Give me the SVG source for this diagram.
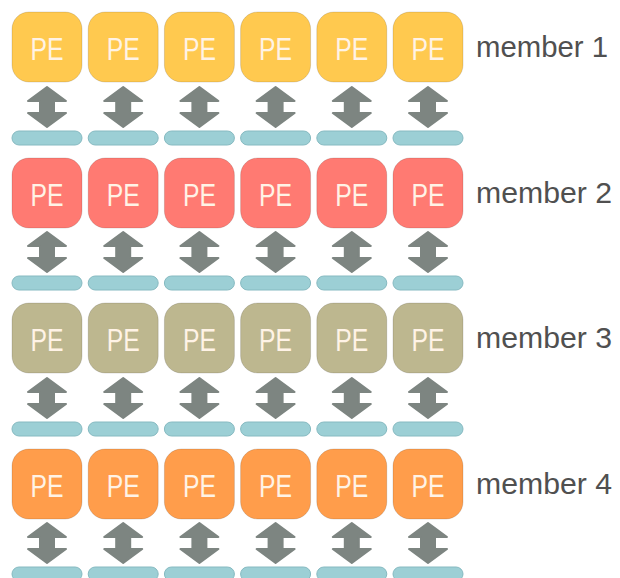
<svg xmlns="http://www.w3.org/2000/svg" xmlns:xlink="http://www.w3.org/1999/xlink" width="620" height="578" viewBox="0 0 620 578">
<style>
.pe{stroke-width:1;stroke-opacity:0.13;stroke:#000}
.y{fill:#FFC94F}
.r{fill:#FF7A72}
.k{fill:#BDB78F}
.o{fill:#FF9D4B}
.bar{fill:#9CCFD5;stroke:#86BAC1;stroke-width:1}
.pt{font-family:"Liberation Sans",Arial,sans-serif;font-size:32px;fill:#FFF3E6;text-anchor:middle}
.lbl{font-family:"Liberation Sans",Arial,sans-serif;font-size:30px;fill:#505050}
.arr{fill:#7D8581;stroke:#7D8581;stroke-width:2;stroke-linejoin:round}
</style>
<defs>
<path id="ar" class="arr" d="M0,1 L19,15 L7,15 L7,27 L19,27 L0,41 L-19,27 L-7,27 L-7,15 L-19,15 Z"/>
</defs>
<rect width="620" height="578" fill="#fff"/>

<g id="row1">
<g id="n1-1"><rect class="pe y" x="12" y="12" width="70" height="70" rx="17"/><text class="pt" x="47" y="60" textLength="33" lengthAdjust="spacingAndGlyphs">PE</text></g>
<g id="n1-2"><rect class="pe y" x="88.2" y="12" width="70" height="70" rx="17"/><text class="pt" x="123.2" y="60" textLength="33" lengthAdjust="spacingAndGlyphs">PE</text></g>
<g id="n1-3"><rect class="pe y" x="164.4" y="12" width="70" height="70" rx="17"/><text class="pt" x="199.4" y="60" textLength="33" lengthAdjust="spacingAndGlyphs">PE</text></g>
<g id="n1-4"><rect class="pe y" x="240.6" y="12" width="70" height="70" rx="17"/><text class="pt" x="275.6" y="60" textLength="33" lengthAdjust="spacingAndGlyphs">PE</text></g>
<g id="n1-5"><rect class="pe y" x="316.8" y="12" width="70" height="70" rx="17"/><text class="pt" x="351.8" y="60" textLength="33" lengthAdjust="spacingAndGlyphs">PE</text></g>
<g id="n1-6"><rect class="pe y" x="393" y="12" width="70" height="70" rx="17"/><text class="pt" x="428" y="60" textLength="33" lengthAdjust="spacingAndGlyphs">PE</text></g>
<g id="m1-1"><rect class="bar" x="12" y="131" width="70" height="14" rx="7"/></g>
<g id="m1-2"><rect class="bar" x="88.2" y="131" width="70" height="14" rx="7"/></g>
<g id="m1-3"><rect class="bar" x="164.4" y="131" width="70" height="14" rx="7"/></g>
<g id="m1-4"><rect class="bar" x="240.6" y="131" width="70" height="14" rx="7"/></g>
<g id="m1-5"><rect class="bar" x="316.8" y="131" width="70" height="14" rx="7"/></g>
<g id="m1-6"><rect class="bar" x="393" y="131" width="70" height="14" rx="7"/></g>
<g id="label1"><text class="lbl" x="476" y="57" textLength="132" lengthAdjust="spacingAndGlyphs">member 1</text></g>
</g>

<g id="row2">
<g id="n2-1"><rect class="pe r" x="12" y="158" width="70" height="70" rx="17"/><text class="pt" x="47" y="206" textLength="33" lengthAdjust="spacingAndGlyphs">PE</text></g>
<g id="n2-2"><rect class="pe r" x="88.2" y="158" width="70" height="70" rx="17"/><text class="pt" x="123.2" y="206" textLength="33" lengthAdjust="spacingAndGlyphs">PE</text></g>
<g id="n2-3"><rect class="pe r" x="164.4" y="158" width="70" height="70" rx="17"/><text class="pt" x="199.4" y="206" textLength="33" lengthAdjust="spacingAndGlyphs">PE</text></g>
<g id="n2-4"><rect class="pe r" x="240.6" y="158" width="70" height="70" rx="17"/><text class="pt" x="275.6" y="206" textLength="33" lengthAdjust="spacingAndGlyphs">PE</text></g>
<g id="n2-5"><rect class="pe r" x="316.8" y="158" width="70" height="70" rx="17"/><text class="pt" x="351.8" y="206" textLength="33" lengthAdjust="spacingAndGlyphs">PE</text></g>
<g id="n2-6"><rect class="pe r" x="393" y="158" width="70" height="70" rx="17"/><text class="pt" x="428" y="206" textLength="33" lengthAdjust="spacingAndGlyphs">PE</text></g>
<g id="m2-1"><rect class="bar" x="12" y="276" width="70" height="14" rx="7"/></g>
<g id="m2-2"><rect class="bar" x="88.2" y="276" width="70" height="14" rx="7"/></g>
<g id="m2-3"><rect class="bar" x="164.4" y="276" width="70" height="14" rx="7"/></g>
<g id="m2-4"><rect class="bar" x="240.6" y="276" width="70" height="14" rx="7"/></g>
<g id="m2-5"><rect class="bar" x="316.8" y="276" width="70" height="14" rx="7"/></g>
<g id="m2-6"><rect class="bar" x="393" y="276" width="70" height="14" rx="7"/></g>
<g id="label2"><text class="lbl" x="476" y="203" textLength="136" lengthAdjust="spacingAndGlyphs">member 2</text></g>
</g>

<g id="row3">
<g id="n3-1"><rect class="pe k" x="12" y="303" width="70" height="70" rx="17"/><text class="pt" x="47" y="351" textLength="33" lengthAdjust="spacingAndGlyphs">PE</text></g>
<g id="n3-2"><rect class="pe k" x="88.2" y="303" width="70" height="70" rx="17"/><text class="pt" x="123.2" y="351" textLength="33" lengthAdjust="spacingAndGlyphs">PE</text></g>
<g id="n3-3"><rect class="pe k" x="164.4" y="303" width="70" height="70" rx="17"/><text class="pt" x="199.4" y="351" textLength="33" lengthAdjust="spacingAndGlyphs">PE</text></g>
<g id="n3-4"><rect class="pe k" x="240.6" y="303" width="70" height="70" rx="17"/><text class="pt" x="275.6" y="351" textLength="33" lengthAdjust="spacingAndGlyphs">PE</text></g>
<g id="n3-5"><rect class="pe k" x="316.8" y="303" width="70" height="70" rx="17"/><text class="pt" x="351.8" y="351" textLength="33" lengthAdjust="spacingAndGlyphs">PE</text></g>
<g id="n3-6"><rect class="pe k" x="393" y="303" width="70" height="70" rx="17"/><text class="pt" x="428" y="351" textLength="33" lengthAdjust="spacingAndGlyphs">PE</text></g>
<g id="m3-1"><rect class="bar" x="12" y="422" width="70" height="14" rx="7"/></g>
<g id="m3-2"><rect class="bar" x="88.2" y="422" width="70" height="14" rx="7"/></g>
<g id="m3-3"><rect class="bar" x="164.4" y="422" width="70" height="14" rx="7"/></g>
<g id="m3-4"><rect class="bar" x="240.6" y="422" width="70" height="14" rx="7"/></g>
<g id="m3-5"><rect class="bar" x="316.8" y="422" width="70" height="14" rx="7"/></g>
<g id="m3-6"><rect class="bar" x="393" y="422" width="70" height="14" rx="7"/></g>
<g id="label3"><text class="lbl" x="476" y="348" textLength="136" lengthAdjust="spacingAndGlyphs">member 3</text></g>
</g>

<g id="row4">
<g id="n4-1"><rect class="pe o" x="12" y="449" width="70" height="70" rx="17"/><text class="pt" x="47" y="497" textLength="33" lengthAdjust="spacingAndGlyphs">PE</text></g>
<g id="n4-2"><rect class="pe o" x="88.2" y="449" width="70" height="70" rx="17"/><text class="pt" x="123.2" y="497" textLength="33" lengthAdjust="spacingAndGlyphs">PE</text></g>
<g id="n4-3"><rect class="pe o" x="164.4" y="449" width="70" height="70" rx="17"/><text class="pt" x="199.4" y="497" textLength="33" lengthAdjust="spacingAndGlyphs">PE</text></g>
<g id="n4-4"><rect class="pe o" x="240.6" y="449" width="70" height="70" rx="17"/><text class="pt" x="275.6" y="497" textLength="33" lengthAdjust="spacingAndGlyphs">PE</text></g>
<g id="n4-5"><rect class="pe o" x="316.8" y="449" width="70" height="70" rx="17"/><text class="pt" x="351.8" y="497" textLength="33" lengthAdjust="spacingAndGlyphs">PE</text></g>
<g id="n4-6"><rect class="pe o" x="393" y="449" width="70" height="70" rx="17"/><text class="pt" x="428" y="497" textLength="33" lengthAdjust="spacingAndGlyphs">PE</text></g>
<g id="m4-1"><rect class="bar" x="12" y="567" width="70" height="14" rx="7"/></g>
<g id="m4-2"><rect class="bar" x="88.2" y="567" width="70" height="14" rx="7"/></g>
<g id="m4-3"><rect class="bar" x="164.4" y="567" width="70" height="14" rx="7"/></g>
<g id="m4-4"><rect class="bar" x="240.6" y="567" width="70" height="14" rx="7"/></g>
<g id="m4-5"><rect class="bar" x="316.8" y="567" width="70" height="14" rx="7"/></g>
<g id="m4-6"><rect class="bar" x="393" y="567" width="70" height="14" rx="7"/></g>
<g id="label4"><text class="lbl" x="476" y="494" textLength="136" lengthAdjust="spacingAndGlyphs">member 4</text></g>
</g>

<g id="connectors">
<use href="#ar" x="47" y="86"/><use href="#ar" x="123.2" y="86"/><use href="#ar" x="199.4" y="86"/><use href="#ar" x="275.6" y="86"/><use href="#ar" x="351.8" y="86"/><use href="#ar" x="428" y="86"/>
<use href="#ar" x="47" y="231"/><use href="#ar" x="123.2" y="231"/><use href="#ar" x="199.4" y="231"/><use href="#ar" x="275.6" y="231"/><use href="#ar" x="351.8" y="231"/><use href="#ar" x="428" y="231"/>
<use href="#ar" x="47" y="377"/><use href="#ar" x="123.2" y="377"/><use href="#ar" x="199.4" y="377"/><use href="#ar" x="275.6" y="377"/><use href="#ar" x="351.8" y="377"/><use href="#ar" x="428" y="377"/>
<use href="#ar" x="47" y="522"/><use href="#ar" x="123.2" y="522"/><use href="#ar" x="199.4" y="522"/><use href="#ar" x="275.6" y="522"/><use href="#ar" x="351.8" y="522"/><use href="#ar" x="428" y="522"/>
</g>
</svg>
